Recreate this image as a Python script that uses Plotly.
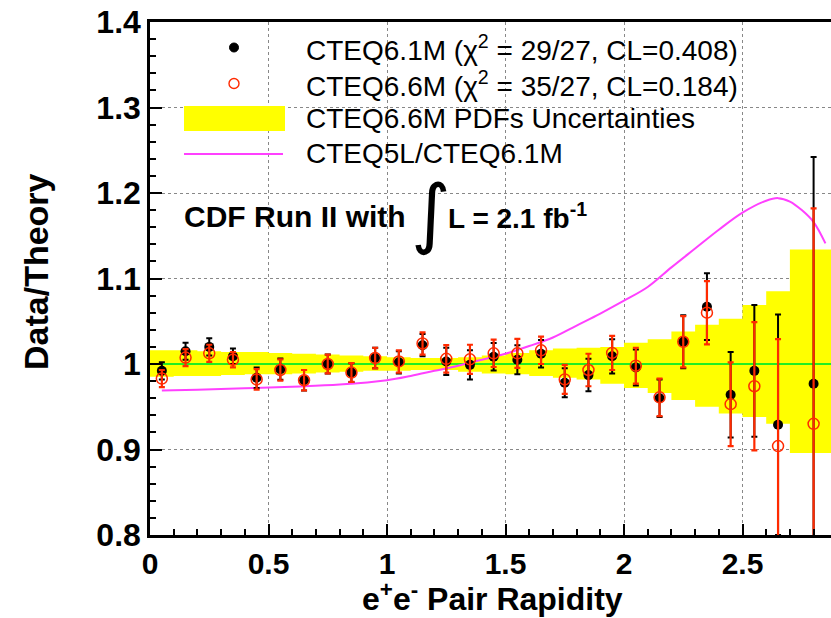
import plotly.graph_objects as go

# ---------------- data ----------------
x_centers = [0.05, 0.15, 0.25, 0.35, 0.45, 0.55, 0.65, 0.75, 0.85, 0.95,
             1.05, 1.15, 1.25, 1.35, 1.45, 1.55, 1.65, 1.75, 1.85, 1.95,
             2.05, 2.15, 2.25, 2.35, 2.45, 2.55, 2.65, 2.80]

cteq61_ratio = [0.992, 1.015, 1.020, 1.009, 0.984, 0.994, 0.981, 1.000, 0.990, 1.007,
                1.002, 1.022, 1.003, 0.999, 1.0085, 1.005, 1.012, 0.978, 0.987, 1.009,
                0.996, 0.960, 1.026, 1.067, 0.964, 0.992, 0.929, 0.977]
cteq61_err = [0.010, 0.010, 0.010, 0.009, 0.012, 0.0125, 0.012, 0.011, 0.011, 0.012,
              0.013, 0.013, 0.016, 0.017, 0.016, 0.017, 0.016, 0.017, 0.019, 0.020,
              0.021, 0.022, 0.031, 0.039, 0.050, 0.077, 0.129, 0.265]

cteq66_ratio = [0.983, 1.0075, 1.0125, 1.005, 0.982, 0.993, 0.981, 1.000, 0.990, 1.007,
                1.003, 1.024, 1.006, 1.0055, 1.0125, 1.0125, 1.016, 0.982, 0.993, 1.013,
                0.998, 0.961, 1.026, 1.060, 0.953, 0.974, 0.904, 0.930]
cteq66_err = [0.010, 0.010, 0.010, 0.009, 0.012, 0.0125, 0.012, 0.011, 0.011, 0.012,
              0.013, 0.013, 0.016, 0.017, 0.016, 0.017, 0.016, 0.017, 0.019, 0.020,
              0.021, 0.022, 0.030, 0.037, 0.049, 0.075, 0.125, 0.252]

band_edges = [0.0, 0.1, 0.2, 0.3, 0.4, 0.5, 0.6, 0.7, 0.8, 0.9, 1.0,
              1.1, 1.2, 1.3, 1.4, 1.5, 1.6, 1.7, 1.8, 1.9, 2.0,
              2.1, 2.2, 2.3, 2.4, 2.5, 2.6, 2.7, 2.9]
band_upper = [1.016, 1.016, 1.015, 1.014, 1.014, 1.013, 1.012, 1.011, 1.010, 1.009,
              1.008, 1.007, 1.007, 1.008, 1.010, 1.013, 1.016, 1.018, 1.019, 1.020,
              1.025, 1.029, 1.038, 1.046, 1.053, 1.069, 1.085, 1.134]
band_lower = [0.985, 0.986, 0.986, 0.987, 0.988, 0.988, 0.989, 0.990, 0.991, 0.992,
              0.992, 0.993, 0.993, 0.991, 0.989, 0.988, 0.986, 0.984, 0.982, 0.977,
              0.972, 0.966, 0.958, 0.950, 0.942, 0.938, 0.930, 0.896]

lo_x = [0.05, 0.2, 0.4, 0.6, 0.8, 1.0, 1.1, 1.2, 1.3, 1.4, 1.5, 1.6, 1.7, 1.8,
        1.9, 2.0, 2.1, 2.2, 2.3, 2.4, 2.5, 2.6, 2.65, 2.7, 2.75, 2.8, 2.85]
lo_ratio = [0.969, 0.970, 0.9715, 0.9735, 0.976, 0.981, 0.986, 0.992, 0.998, 1.005,
            1.012, 1.021, 1.031, 1.045, 1.059, 1.074, 1.090, 1.113, 1.135, 1.157,
            1.177, 1.191, 1.194, 1.190, 1.180, 1.166, 1.141]

ref_level = 1.0

x_tickvals = [0, 0.5, 1, 1.5, 2, 2.5]
x_ticktext = ["0", "0.5", "1", "1.5", "2", "2.5"]
y_tickvals = [0.8, 0.9, 1.0, 1.1, 1.2, 1.3, 1.4]
y_ticktext = ["0.8", "0.9", "1", "1.1", "1.2", "1.3", "1.4"]

# ---------------- layout constants ----------------
W, H = 831, 618
L, R, T, B = 150, 0, 22, 83
X_RANGE = [0, (W - L - R) / 237.0]
Y_RANGE = [0.8, 1.4]
FONT = "Liberation Sans, Arial, Helvetica, sans-serif"

RED = "#ff2a00"
MAGENTA = "#ff40ff"
YELLOW = "#ffff00"
GREEN = "#22ee22"


def px(xp, yp):
    """pixel -> paper coords"""
    return (xp - L) / (W - L - R), (H - B - yp) / (H - T - B)


# step-shaped band polygon built from the arrays
bx, by = [], []
for i in range(len(band_upper)):
    bx += [band_edges[i], band_edges[i + 1]]
    by += [band_upper[i], band_upper[i]]
for i in reversed(range(len(band_lower))):
    bx += [band_edges[i + 1], band_edges[i]]
    by += [band_lower[i], band_lower[i]]

fig = go.Figure()

fig.add_trace(go.Scatter(x=bx, y=by, mode="lines", fill="toself",
                         fillcolor=YELLOW, line=dict(width=0), hoverinfo="skip",
                         showlegend=False))

# reference line at Data/Theory = 1 across the whole axis
fig.add_trace(go.Scatter(x=[band_edges[0], band_edges[-1]], y=[ref_level, ref_level],
                         mode="lines", line=dict(color=GREEN, width=2),
                         hoverinfo="skip", showlegend=False))

fig.add_trace(go.Scatter(x=lo_x, y=lo_ratio, mode="lines",
                         line=dict(color=MAGENTA, width=2, shape="spline"),
                         showlegend=False))

fig.add_trace(go.Scatter(x=x_centers, y=cteq61_ratio, mode="markers",
                         marker=dict(color="black", size=10, symbol="circle"),
                         error_y=dict(type="data", array=cteq61_err, color="black",
                                      thickness=2, width=3),
                         showlegend=False))

fig.add_trace(go.Scatter(x=x_centers, y=cteq66_ratio, mode="markers",
                         marker=dict(color=RED, size=11, symbol="circle-open",
                                     line=dict(color=RED, width=1.5)),
                         error_y=dict(type="data", array=cteq66_err, color=RED,
                                      thickness=2.2, width=3),
                         showlegend=False))

# ------------- manual legend -------------
shapes = []
cx, cy = px(234, 47.5)
shapes.append(dict(type="circle", xref="paper", yref="paper", xsizemode="pixel",
                   ysizemode="pixel", xanchor=cx, yanchor=cy, x0=-4.5, x1=4.5, y0=-4.5, y1=4.5,
                   fillcolor="black", line=dict(color="black", width=1)))
cx, cy = px(234, 83.5)
shapes.append(dict(type="circle", xref="paper", yref="paper", xsizemode="pixel",
                   ysizemode="pixel", xanchor=cx, yanchor=cy, x0=-5, x1=5, y0=-5, y1=5,
                   fillcolor="rgba(0,0,0,0)", line=dict(color=RED, width=1.4)))
x0, y0 = px(184, 131)
x1, y1 = px(285, 106)
shapes.append(dict(type="rect", xref="paper", yref="paper", x0=x0, x1=x1, y0=y0, y1=y1,
                   fillcolor=YELLOW, line=dict(width=0)))
x0, y0 = px(184, 154)
x1, _ = px(283, 154)
shapes.append(dict(type="line", xref="paper", yref="paper", x0=x0, x1=x1, y0=y0, y1=y0,
                   line=dict(color=MAGENTA, width=2)))

legend_texts = ["CTEQ6.1M (χ<sup>2</sup> = 29/27, CL=0.408)",
                "CTEQ6.6M (χ<sup>2</sup> = 35/27, CL=0.184)",
                "CTEQ6.6M PDFs Uncertainties",
                "CTEQ5L/CTEQ6.1M"]
legend_y = [48, 84, 118, 153]

annotations = []
for t, yy in zip(legend_texts, legend_y):
    ax, ay = px(304, yy)
    annotations.append(dict(text=t, x=ax, y=ay, xref="paper", yref="paper",
                            xanchor="left", yanchor="middle", showarrow=False,
                            font=dict(family=FONT, size=28, color="black")))

ax, ay = px(182, 216)
annotations.append(dict(text="CDF Run II with", x=ax, y=ay, xref="paper", yref="paper",
                        xanchor="left", yanchor="middle", showarrow=False,
                        font=dict(family=FONT, size=30, color="black", weight="bold")))
ax, ay = px(431, 212)
annotations.append(dict(text="∫", x=ax, y=ay, xref="paper", yref="paper",
                        xanchor="center", yanchor="middle", showarrow=False,
                        font=dict(family="DejaVu Sans", size=76, color="black")))
ax, ay = px(446, 216)
annotations.append(dict(text="L = 2.1 fb<sup>-1</sup>", x=ax, y=ay, xref="paper", yref="paper",
                        xanchor="left", yanchor="middle", showarrow=False,
                        font=dict(family=FONT, size=28, color="black", weight="bold")))

# axis titles
ax, ay = px(36, 272)
annotations.append(dict(text="Data/Theory", x=ax, y=ay, xref="paper", yref="paper",
                        xanchor="center", yanchor="middle", showarrow=False, textangle=-90,
                        font=dict(family=FONT, size=34, color="black", weight="bold")))
ax, ay = px(492, 597)
annotations.append(dict(text="e<sup>+</sup>e<sup>-</sup> Pair Rapidity", x=ax, y=ay,
                        xref="paper", yref="paper", xanchor="center", yanchor="middle",
                        showarrow=False,
                        font=dict(family=FONT, size=32, color="black", weight="bold")))

fig.update_layout(
    width=W, height=H,
    margin=dict(l=L, r=R, t=T, b=B, pad=0),
    paper_bgcolor="white", plot_bgcolor="white",
    shapes=shapes, annotations=annotations,
    font=dict(family=FONT, color="black"),
    showlegend=False,
)

fig.update_xaxes(range=X_RANGE, tickvals=x_tickvals, ticktext=x_ticktext,
                 ticks="inside", ticklen=11, tickwidth=1.5, tickcolor="black",
                 showline=True, linecolor="black", linewidth=2.5, mirror=True,
                 showgrid=True, gridcolor="#888888", griddash="dot", gridwidth=1,
                 zeroline=False,
                 tickfont=dict(family=FONT, size=30, color="black", weight="bold"),
                 minor=dict(ticks="inside", ticklen=6, dtick=0.1, tick0=0,
                            tickcolor="black", tickwidth=1.5, showgrid=False))
fig.update_yaxes(range=Y_RANGE, tickvals=y_tickvals, ticktext=y_ticktext,
                 ticks="inside", ticklen=12, tickwidth=1.5, tickcolor="black",
                 showline=True, linecolor="black", linewidth=2.5, mirror=False,
                 showgrid=True, gridcolor="#888888", griddash="dot", gridwidth=1,
                 zeroline=False,
                 tickfont=dict(family=FONT, size=32, color="black", weight="bold"),
                 minor=dict(ticks="inside", ticklen=6, dtick=0.02, tick0=0.8,
                            tickcolor="black", tickwidth=1.5, showgrid=False))

fig.write_html("out.html")
